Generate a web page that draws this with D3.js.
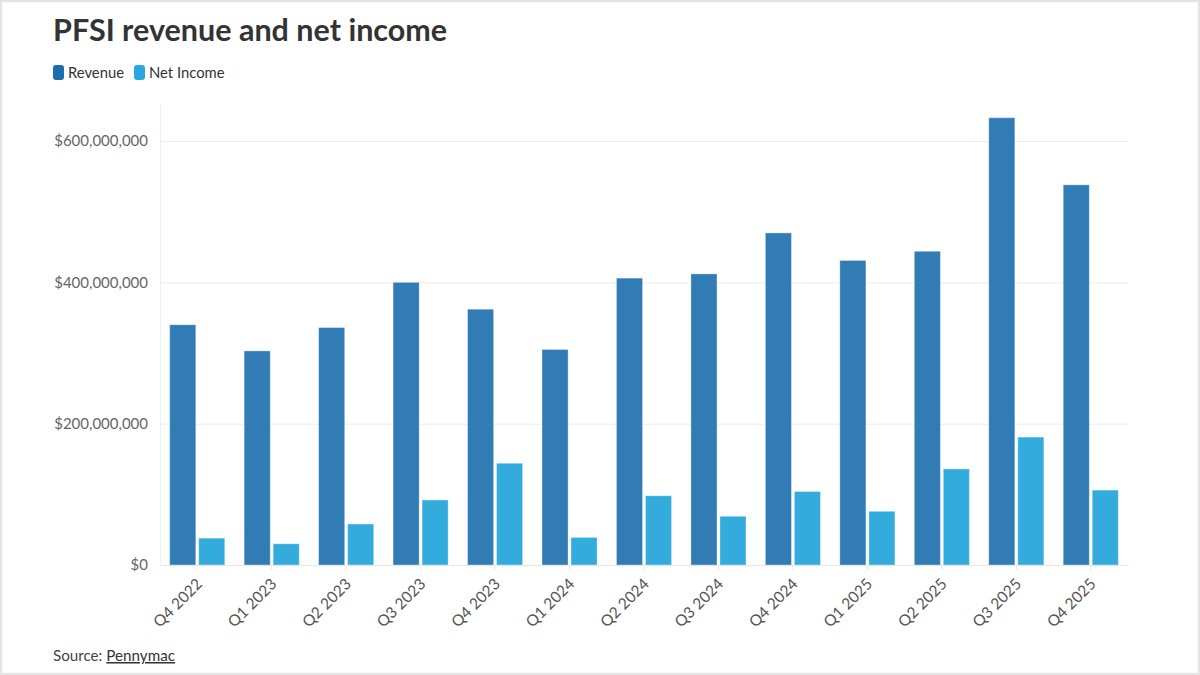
<!DOCTYPE html>
<html>
<head>
<meta charset="utf-8">
<script src="https://cdn.jsdelivr.net/npm/d3@7"></script>
<style>
  html, body { margin: 0; padding: 0; background: #fff; }
  svg { display: block; font-family: Lato, "Noto Sans", sans-serif; }
</style>
</head>
<body>
<svg id="chart" width="1200" height="675"></svg>
<script>
const categories = ["Q4 2022","Q1 2023","Q2 2023","Q3 2023","Q4 2023","Q1 2024","Q2 2024","Q3 2024","Q4 2024","Q1 2025","Q2 2025","Q3 2025","Q4 2025"];
const revenue   = [340e6, 303e6, 336e6, 400e6, 362e6, 305e6, 406e6, 412e6, 470e6, 431e6, 444e6, 633e6, 538e6];
const netIncome = [38e6, 30e6, 58e6, 92e6, 144e6, 39e6, 98e6, 69e6, 104e6, 76e6, 136e6, 181e6, 106e6];
const seriesNames = ["Revenue", "Net Income"];
const seriesColors = ["#317cb5", "#33acdd"];
const legendColors = ["#1f6cb0", "#2aa8de"];
const yTicks = [0, 200e6, 400e6, 600e6];

const svg = d3.select("#chart");
const W = 1200, H = 675;
const margin = {left: 160, right: 72, top: 105, bottom: 110};
const x0 = d3.scaleBand().domain(categories).range([margin.left, W - margin.right]).paddingInner(0.26).paddingOuter(0.13);
const x1 = d3.scaleBand().domain(seriesNames).range([0, x0.bandwidth()]).paddingInner(0.1);
const y = d3.scaleLinear().domain([0, 651e6]).range([H - margin.bottom, margin.top]);

// frame
svg.append("rect").attr("x", 1).attr("y", 1).attr("width", W - 2).attr("height", H - 2)
  .attr("fill", "#fff").attr("stroke", "#e4e4e4").attr("stroke-width", 2.5);

// title
svg.append("text").attr("x", 53).attr("y", 41).text("PFSI revenue and net income")
  .attr("font-size", 30.5).attr("font-weight", 700).attr("fill", "#333");

// legend
const leg = svg.append("g");
const legX = [53, 134];
seriesNames.forEach((s, i) => {
  leg.append("rect").attr("x", legX[i]).attr("y", 65).attr("width", 11).attr("height", 15).attr("rx", 3)
    .attr("fill", legendColors[i]);
  leg.append("text").attr("x", legX[i] + 15).attr("y", 78).text(s)
    .attr("font-size", 14.8).attr("fill", "#333");
});

// grid + y axis
const yAxis = d3.axisLeft(y).tickValues(yTicks).tickSize(-(W - margin.left - margin.right)).tickSizeOuter(0)
  .tickFormat(d => "$" + d3.format(",")(d));
const gy = svg.append("g").attr("transform", `translate(${margin.left},0)`).call(yAxis);
gy.select(".domain").attr("stroke", "#eeeeee");
gy.selectAll(".tick line").attr("stroke", "#ececec");
gy.selectAll(".tick text").attr("x", -12).attr("font-size", 15).attr("fill", "#666").attr("font-family", "Lato");

// bars
const data = categories.map((c, i) => ({cat: c, vals: [revenue[i], netIncome[i]]}));
const groups = svg.append("g").selectAll("g").data(data).join("g")
  .attr("transform", d => `translate(${x0(d.cat)},0)`);
groups.selectAll("rect").data(d => d.vals.map((v, i) => ({key: seriesNames[i], v, i})))
  .join("rect")
  .attr("x", d => x1(d.key))
  .attr("width", x1.bandwidth())
  .attr("y", d => y(d.v))
  .attr("height", d => y(0) - y(d.v))
  .attr("fill", d => seriesColors[d.i])
  .attr("stroke", "#ffffff").attr("stroke-opacity", 0.35).attr("stroke-width", 1);

// x axis
const xAxis = d3.axisBottom(x0).tickSize(5).tickSizeOuter(0);
const gx = svg.append("g").attr("transform", `translate(0,${H - margin.bottom})`).call(xAxis);
gx.select(".domain").attr("stroke", "#e6e6e6");
gx.selectAll(".tick line").attr("stroke", "#e6e6e6");
gx.selectAll(".tick text")
  .attr("font-size", 15.5).attr("fill", "#555").attr("font-family", "Lato")
  .attr("text-anchor", "end")
  .attr("dy", 0).attr("y", 0)
  .attr("transform", "translate(6,20) rotate(-45)");

// source
const src = svg.append("text").attr("x", 53).attr("y", 661).attr("font-size", 15.2).attr("fill", "#444");
src.append("tspan").text("Source: ");
src.append("tspan").text("Pennymac").attr("text-decoration", "underline").attr("fill", "#333");
</script>
</body>
</html>
